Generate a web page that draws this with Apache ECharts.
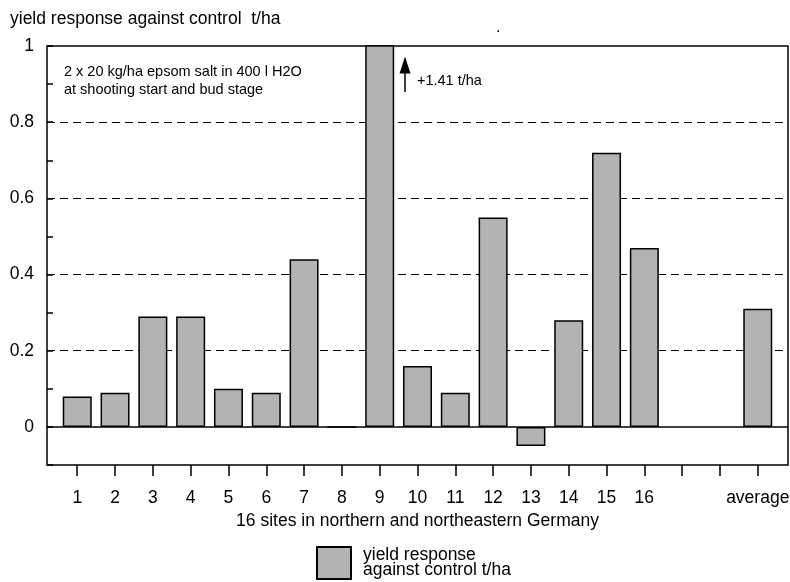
<!DOCTYPE html>
<html><head><meta charset="utf-8">
<script src="https://cdn.jsdelivr.net/npm/echarts@6/dist/echarts.min.js"></script>
<style>html,body{margin:0;padding:0;background:#fff}#c{width:790px;height:582px}</style>
</head><body><div id="c"></div>
<script>
// ---- data ----
const sites = ['1','2','3','4','5','6','7','8','9','10','11','12','13','14','15','16'];
const siteValues = [0.08, 0.09, 0.29, 0.29, 0.10, 0.09, 0.44, 0, 1.41, 0.16, 0.09, 0.55, -0.05, 0.28, 0.72, 0.47];
const gapLabels = ['', ''];
const averageLabel = 'average';
const averageValue = 0.31;
const gridLineValues = [0.2, 0.4, 0.6, 0.8];
const seriesName = 'yield response\nagainst control t/ha';
const chartTitle = 'yield response against control  t/ha';
const xAxisTitle = '16 sites in northern and northeastern Germany';
const noteLines = ['2 x 20 kg/ha epsom salt in 400 l H2O', 'at shooting start and bud stage'];
const clippedNote = '+1.41 t/ha';
const arrowFrom = 0.879, arrowTo = 0.950;

// ---- build ----
const FONT = '"Liberation Sans", Arial, sans-serif';
const FS = 17.5;
const xLabels = sites.concat(gapLabels, [averageLabel]);
const positions = xLabels.map((_, i) => i + 1);
const barData = siteValues.map((v, i) => [i + 1, v]).concat([[xLabels.length, averageValue]]);
const clippedPos = siteValues.indexOf(Math.max(...siteValues)) + 1;

const chart = echarts.init(document.getElementById('c'));
chart.setOption({
  animation: false,
  textStyle: { fontFamily: FONT, color: '#000' },
  title: { text: chartTitle, left: 5, top: 5, textStyle: { fontFamily: FONT, fontSize: FS, fontWeight: 'normal', color: '#000' } },
  grid: { left: 47, right: 2, top: 46, bottom: 117, show: true, borderColor: '#000', borderWidth: 1.5, outerBoundsMode: 'none', containLabel: false },
  legend: {
    left: 311, top: 541, itemWidth: 34, itemHeight: 32, icon: 'rect', data: [seriesName],
    itemStyle: { color: '#b3b3b3', borderColor: '#000', borderWidth: 2 },
    textStyle: { fontFamily: FONT, fontSize: FS, lineHeight: 15, color: '#000', padding: [0, 0, 0, 7] }
  },
  xAxis: {
    type: 'value', min: 0.2, max: 19.8,
    name: xAxisTitle, nameLocation: 'middle', nameGap: 47,
    nameTextStyle: { fontFamily: FONT, fontSize: FS, color: '#000' },
    axisLine: { show: false, onZero: false }, splitLine: { show: false },
    axisTick: { show: true, customValues: positions, length: 11, lineStyle: { color: '#000', width: 1.5 } },
    axisLabel: { customValues: positions, formatter: v => xLabels[Math.round(v) - 1] || '', margin: 24, color: '#000', fontFamily: FONT, fontSize: FS }
  },
  yAxis: {
    type: 'value', min: -0.1, max: 1, interval: 0.1,
    axisLine: { show: false }, splitLine: { show: false },
    axisTick: { show: true, inside: true, length: 6, lineStyle: { color: '#000', width: 1.5 } },
    axisLabel: {
      formatter: v => { const k = Math.round(v * 10); return (k >= 0 && k % 2 === 0) ? String(k / 10) : ''; },
      margin: 13, color: '#000', fontFamily: FONT, fontSize: FS
    }
  },
  series: [
    {
      type: 'bar', name: seriesName, data: barData, barWidth: 29, clip: true, z: 3,
      itemStyle: { color: '#b3b3b3', borderColor: '#000', borderWidth: 1.5 },
      markLine: {
        silent: true, z: 1, symbol: ['none', 'none'], label: { show: false },
        lineStyle: { color: '#000', type: [8, 5], width: 1 },
        data: gridLineValues.map(v => ({ yAxis: v }))
      }
    },
    {
      type: 'line', data: [], z: 4, silent: true,
      markLine: {
        silent: true, z: 6, label: { show: false }, symbol: ['none', 'none'],
        lineStyle: { color: '#000', type: 'solid', width: 1.5 },
        data: [
          { yAxis: 0 },
          [ { coord: [clippedPos + 0.67, arrowFrom], symbol: 'none' },
            { coord: [clippedPos + 0.67, arrowTo], symbol: 'triangle', symbolSize: [11, 17] } ]
        ]
      }
    }
  ],
  graphic: [
    { type: 'text', left: 64, top: 63, style: { text: noteLines.join('\n'), font: '14.5px ' + FONT, lineHeight: 18, fill: '#000' } },
    { type: 'text', left: 417, top: 73, style: { text: clippedNote, font: '14.5px ' + FONT, fill: '#000' } },
    { type: 'text', left: 496, top: 20, style: { text: '.', font: '16px ' + FONT, fill: '#000' } }
  ]
});
</script></body></html>
